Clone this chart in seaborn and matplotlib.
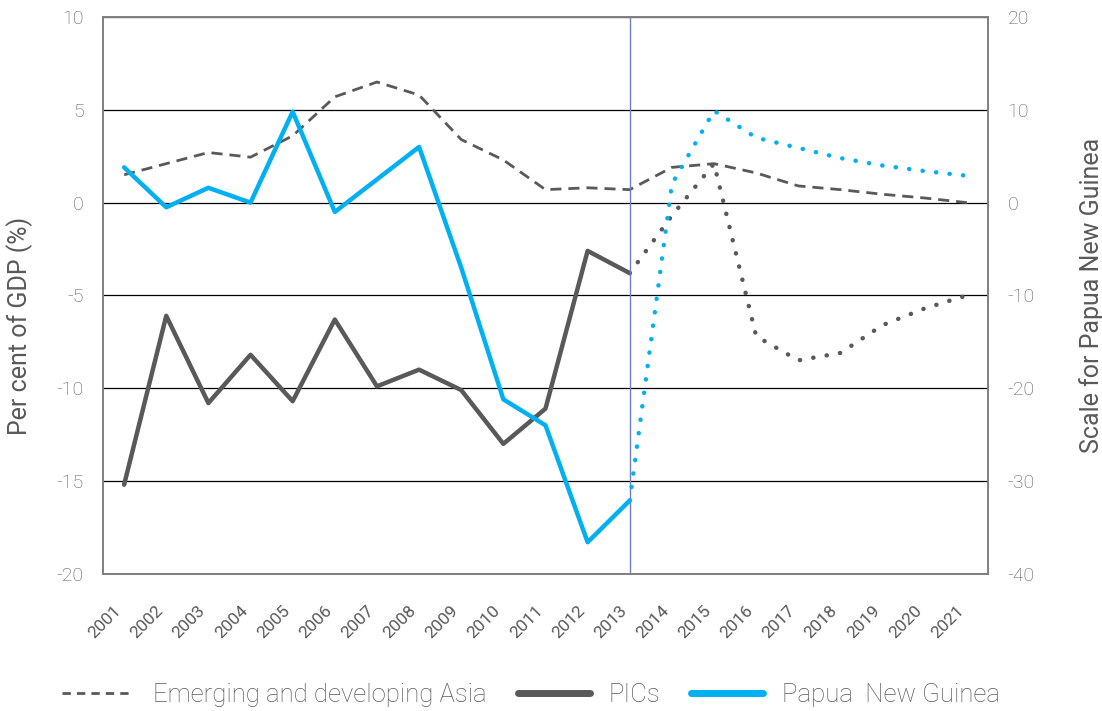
import numpy as np
import pandas as pd
import matplotlib
matplotlib.use("Agg")
import matplotlib.pyplot as plt
import seaborn as sns
from matplotlib.lines import Line2D

# ---- data ----
years = list(range(2001, 2022))
asia = [1.5, 2.1, 2.7, 2.45, 3.6, 5.7, 6.5, 5.8, 3.4, 2.3, 0.7,
        0.8, 0.7, 1.9, 2.1, 1.6, 0.9, 0.7, 0.45, 0.25, 0.0]

hist_years = list(range(2001, 2014))
proj_years = list(range(2013, 2022))
pics_hist = [-15.2, -6.1, -10.8, -8.2, -10.7, -6.3, -9.9, -9.0, -10.1, -13.0, -11.1, -2.6, -3.8]
pics_proj = [-3.8, -0.7, 2.1, -7.2, -8.5, -8.1, -6.6, -5.7, -5.0]
png_hist = [3.8, -0.5, 1.6, 0.0, 9.8, -1.0, 2.5, 6.0, -7.0, -21.2, -24.0, -36.6, -32.1]
png_proj = [-32.1, 2.0, 9.9, 7.0, 5.9, 4.8, 4.0, 3.4, 2.9]

labels = ["Emerging and developing Asia", "PICs", "Papua  New Guinea"]

GREY = "#595959"
BLUE = "#00b0f0"
TXT = "#595959"
DOTS = (0, (0.05, 3.0))

sns.set_style("white")
plt.rcParams["font.family"] = ["Roboto", "DejaVu Sans"]
plt.rcParams["font.weight"] = "light"
plt.rcParams["axes.unicode_minus"] = False

fig = plt.figure(figsize=(11.02, 7.11), dpi=100)
ax = fig.add_axes([0.0935, 0.193, 0.803, 0.783])
ax2 = ax.twinx()

# left axis series
sns.lineplot(x=years, y=asia, ax=ax, color=GREY, lw=2)
ax.lines[-1].set_dashes((4, 2.5))
sns.lineplot(x=hist_years, y=pics_hist, ax=ax, color=GREY, lw=3.2)
sns.lineplot(x=proj_years, y=pics_proj, ax=ax, color=GREY, lw=3.2)
ax.lines[-1].set_linestyle(DOTS)
ax.lines[-1].set_dash_capstyle("round")
ax.axvline(2013, color="#6f7fbf", lw=1)

# right axis: Papua New Guinea
sns.lineplot(x=hist_years, y=png_hist, ax=ax2, color=BLUE, lw=3.2)
sns.lineplot(x=proj_years, y=png_proj, ax=ax2, color=BLUE, lw=3.2)
ax2.lines[-1].set_linestyle(DOTS)
ax2.lines[-1].set_dash_capstyle("round")

ax.set_xlim(2000.5, 2021.5)
ax.set_ylim(-20, 10)
ax2.set_ylim(-40, 20)
ax.set_yticks(np.arange(-20, 11, 5))
ax2.set_yticks(np.arange(-40, 21, 10))
ax.set_xticks(years)
ax.set_xticklabels([str(y) for y in years], rotation=45, ha="right",
                   fontsize=12.5, color=TXT, fontweight="normal")
ax.grid(axis="y", color="black", lw=0.9)
ax.grid(axis="x", visible=False)

ax.tick_params(axis="y", length=0, pad=14, labelsize=14, labelcolor=TXT)
ax.tick_params(axis="x", length=0, pad=21)
ax2.tick_params(axis="y", length=0, pad=14, labelsize=14, labelcolor=TXT)

for a in (ax, ax2):
    for s in a.spines.values():
        s.set_color("#7f7f7f")
        s.set_linewidth(1.2)

ax.set_ylabel("Per cent of GDP (%)", fontsize=18, color=TXT)
ax.yaxis.set_label_coords(-0.079, 0.445)
ax2.set_ylabel("Scale for Papua New Guinea", fontsize=18, color=TXT, labelpad=32)
ax.set_xlabel("")

handles = [Line2D([], [], color=GREY, lw=2, dashes=(3, 2.2)),
           Line2D([], [], color=GREY, lw=5),
           Line2D([], [], color=BLUE, lw=5)]
fig.legend(handles, labels, loc="center", bbox_to_anchor=(0.482, 0.022),
           ncol=3, frameon=False, fontsize=18.5, handlelength=2.8,
           handletextpad=0.75, columnspacing=1.2, labelcolor=TXT)

fig.savefig("out.png", dpi=100)
